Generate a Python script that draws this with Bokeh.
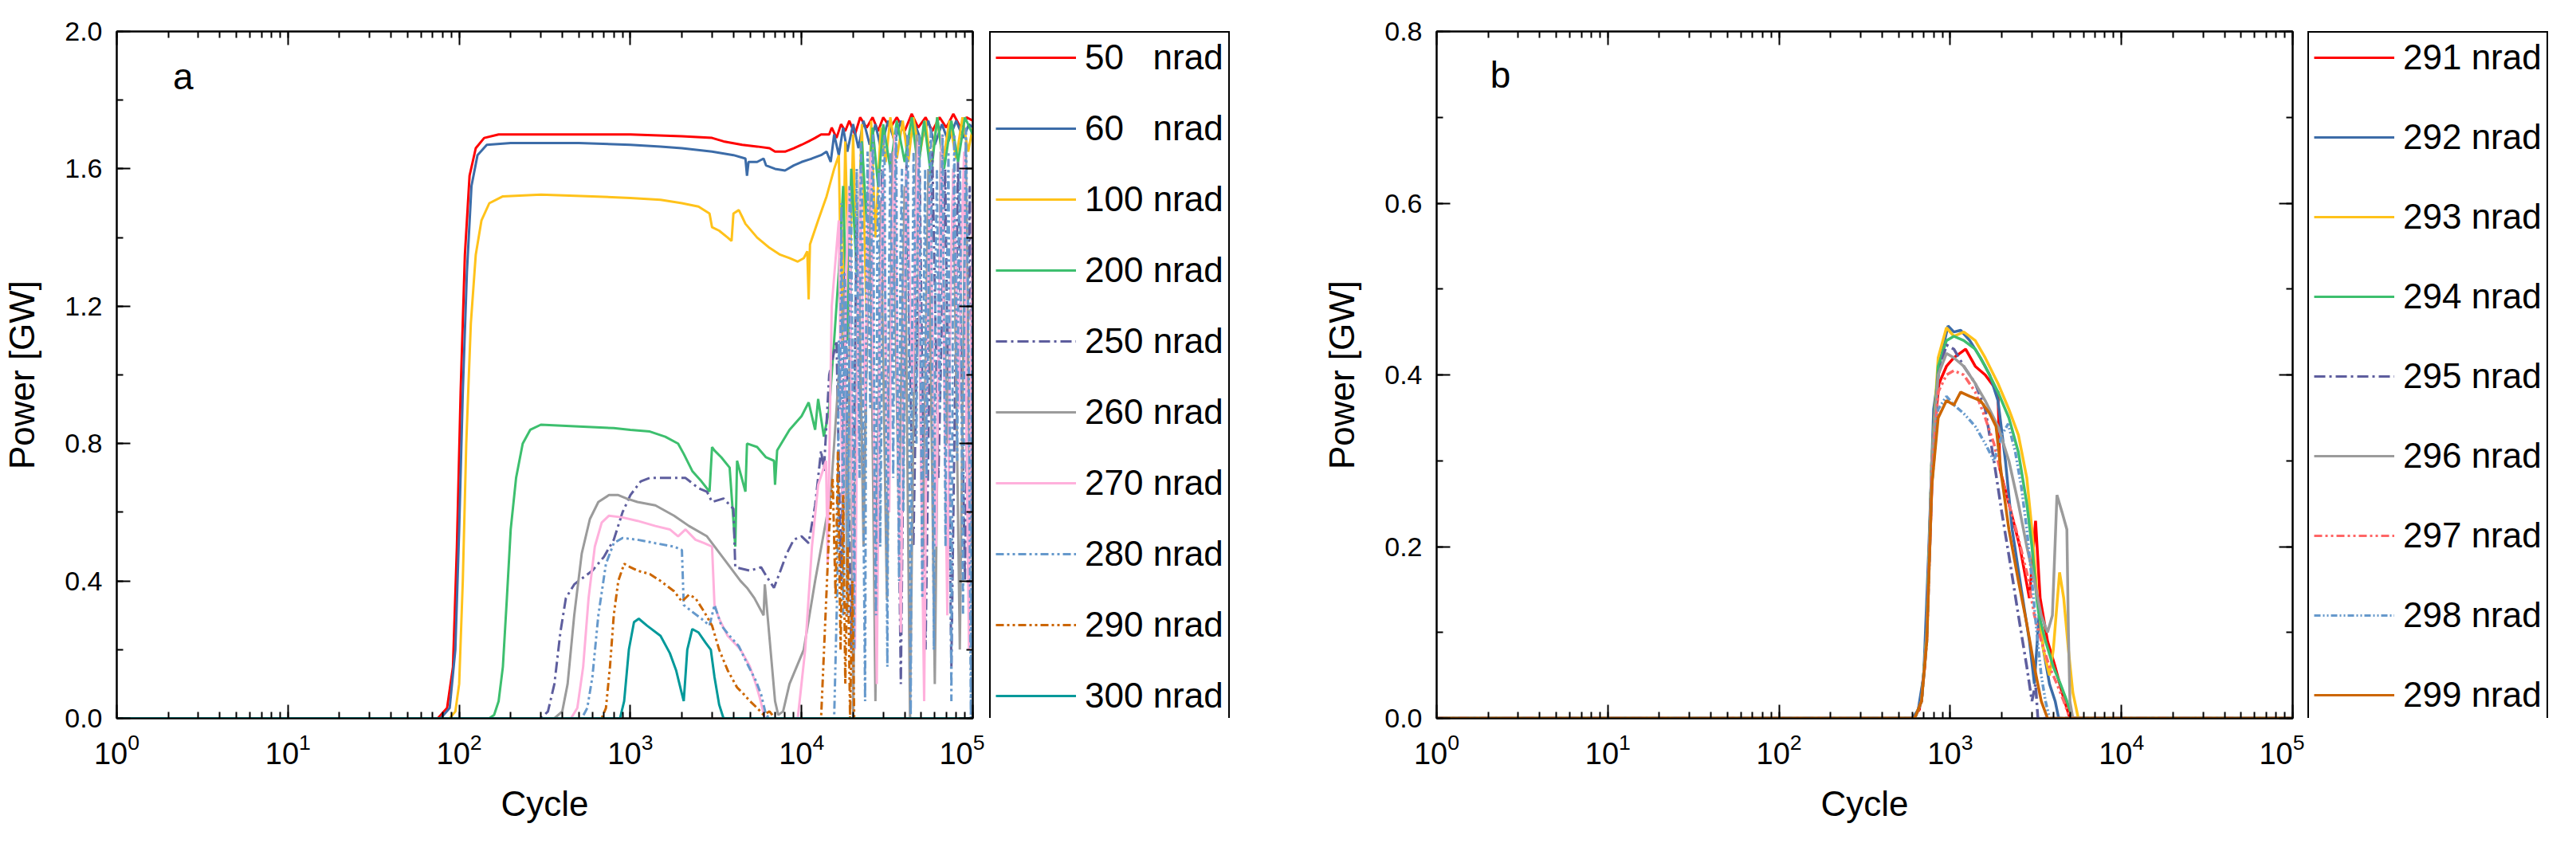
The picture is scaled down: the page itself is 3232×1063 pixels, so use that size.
from bokeh.plotting import figure
from bokeh.models import (Range1d, LogAxis, LinearAxis, LogTicker, SingleIntervalTicker,
                          Legend, LegendItem, Label, PrintfTickFormatter)
from bokeh.layouts import row
from bokeh.embed import file_html
from bokeh.resources import INLINE

FONT = "Liberation Sans"

# ---- panel a: (cycle, power GW) ----
s50 = [(1, 0), (75, 0), (85, 0.03), (92, 0.15), (97, 0.5), (102, 0.95), (108, 1.35), (115, 1.58),
       (125, 1.66), (140, 1.69), (170, 1.70), (500, 1.70), (1000, 1.70), (2000, 1.695), (3000, 1.69),
       (3500, 1.68), (4500, 1.67), (5500, 1.665), (6500, 1.66), (7000, 1.65), (8000, 1.65),
       (9000, 1.66), (10000, 1.67), (11000, 1.68), (12000, 1.69), (13000, 1.70), (14500, 1.70),
       (15000, 1.72), (16000, 1.69), (17000, 1.73), (18000, 1.71), (19000, 1.74), (20500, 1.70),
       (22000, 1.75), (24000, 1.72), (26000, 1.75), (28000, 1.71), (30000, 1.75), (33000, 1.72),
       (36000, 1.75), (40000, 1.71), (44000, 1.76), (48000, 1.72), (53000, 1.75), (58000, 1.71),
       (64000, 1.75), (70000, 1.72), (77000, 1.76), (85000, 1.72), (92000, 1.75), (100000, 1.74)]
s60 = [(1, 0), (78, 0), (88, 0.03), (95, 0.2), (100, 0.55), (105, 0.95), (111, 1.3), (118, 1.55),
       (128, 1.64), (145, 1.67), (200, 1.675), (500, 1.675), (1000, 1.67), (1500, 1.665), (2000, 1.66),
       (3000, 1.65), (4000, 1.64), (4700, 1.63), (4800, 1.58), (4900, 1.62), (5500, 1.62), (6000, 1.63),
       (6200, 1.61), (7000, 1.60), (8000, 1.595), (9000, 1.61), (10000, 1.62), (11500, 1.63),
       (13000, 1.64), (14000, 1.65), (14800, 1.62), (15500, 1.70), (16500, 1.64), (17500, 1.72),
       (18500, 1.65), (20000, 1.73), (21500, 1.66), (23000, 1.74), (25000, 1.67), (27000, 1.73),
       (29000, 1.66), (32000, 1.74), (35000, 1.68), (38000, 1.74), (42000, 1.67), (46000, 1.73),
       (50000, 1.68), (55000, 1.74), (60000, 1.67), (66000, 1.73), (72000, 1.68), (80000, 1.74),
       (88000, 1.69), (95000, 1.73), (100000, 1.72)]
s100 = [(1, 0), (88, 0), (95, 0.02), (100, 0.1), (105, 0.4), (110, 0.8), (117, 1.15), (125, 1.35),
        (135, 1.45), (150, 1.5), (180, 1.52), (300, 1.525), (600, 1.52), (1000, 1.515), (1500, 1.51),
        (2000, 1.50), (2500, 1.49), (2900, 1.47), (3000, 1.43), (3300, 1.42), (3700, 1.40),
        (3900, 1.39), (4000, 1.47), (4300, 1.48), (4500, 1.46), (4700, 1.44), (5500, 1.40),
        (6500, 1.37), (7500, 1.35), (8500, 1.34), (9500, 1.33), (10300, 1.34), (10800, 1.36),
        (11000, 1.22), (11200, 1.38), (12500, 1.45), (14000, 1.52), (15500, 1.60), (16500, 1.64),
        (17200, 1.1), (18000, 1.68), (19000, 1.2), (20000, 1.70), (21000, 1.3), (22500, 1.73),
        (24000, 1.15), (25500, 1.74), (27000, 1.4), (29000, 1.72), (31000, 1.62), (33000, 1.75),
        (36000, 1.63), (39000, 1.74), (42000, 1.62), (45000, 1.75), (49000, 1.64), (53000, 1.74),
        (57000, 1.6), (62000, 1.75), (67000, 1.62), (73000, 1.74), (80000, 1.63), (87000, 1.75),
        (94000, 1.65), (100000, 1.72)]
s200 = [(1, 0), (150, 0), (160, 0.01), (170, 0.05), (180, 0.15), (190, 0.35), (200, 0.55), (215, 0.7),
        (235, 0.8), (260, 0.84), (300, 0.855), (500, 0.85), (800, 0.845), (1000, 0.84), (1300, 0.835),
        (1600, 0.82), (1900, 0.80), (2050, 0.77), (2300, 0.72), (2600, 0.69), (2900, 0.66),
        (3000, 0.79), (3100, 0.78), (3400, 0.76), (3800, 0.73), (4100, 0.50), (4200, 0.75),
        (4700, 0.66), (4800, 0.80), (5500, 0.79), (6200, 0.76), (6900, 0.75), (7000, 0.68),
        (7200, 0.78), (8500, 0.84), (10000, 0.88), (11000, 0.92), (12000, 0.84), (12500, 0.93),
        (13500, 0.82), (14500, 0.90), (15500, 1.1), (16500, 1.3), (17500, 1.55), (18500, 1.1),
        (19500, 1.6), (21000, 1.3), (22500, 1.68), (24000, 1.45), (26000, 1.72), (28000, 1.55),
        (30000, 1.73), (33000, 1.6), (36000, 1.74), (40000, 1.62), (44000, 1.75), (48000, 1.6),
        (52000, 1.74), (57000, 1.58), (62000, 1.75), (68000, 1.6), (75000, 1.74), (82000, 1.62),
        (90000, 1.75), (100000, 1.70)]
s250 = [(1, 0), (300, 0), (330, 0.02), (360, 0.1), (390, 0.25), (420, 0.35), (470, 0.39),
        (600, 0.43), (700, 0.47), (800, 0.52), (900, 0.6), (1000, 0.65), (1150, 0.69), (1300, 0.70),
        (2100, 0.70), (2500, 0.67), (2800, 0.66), (3000, 0.63), (3500, 0.64), (4000, 0.61),
        (4100, 0.44), (5000, 0.43), (5800, 0.44), (6300, 0.41), (6900, 0.38), (7400, 0.42),
        (8200, 0.48), (9000, 0.52), (10000, 0.53), (11000, 0.51), (12000, 0.62), (13000, 0.78),
        (13500, 0.72), (14500, 1.0), (16000, 1.1), (17000, 0.4), (18000, 1.3), (19500, 0.2),
        (21000, 1.45), (23000, 0.6), (25000, 1.5), (27000, 0.3), (29500, 1.6), (32000, 0.8),
        (35000, 1.55), (38000, 0.1), (41000, 1.62), (45000, 0.5), (49000, 1.58), (53000, 0.2),
        (58000, 1.65), (63000, 0.7), (69000, 1.6), (75000, 0.15), (82000, 1.62), (90000, 0.4),
        (96000, 1.55), (100000, 0.6)]
s260 = [(1, 0), (360, 0), (400, 0.02), (430, 0.1), (470, 0.3), (520, 0.48), (580, 0.58), (650, 0.63),
        (750, 0.65), (850, 0.65), (950, 0.64), (1100, 0.63), (1400, 0.62), (1800, 0.59), (2200, 0.56),
        (2800, 0.53), (3700, 0.45), (4400, 0.40), (4800, 0.38), (5300, 0.35), (6000, 0.30),
        (6100, 0.39), (6300, 0.31), (7000, 0.05), (7300, 0.01), (7800, 0.02), (8500, 0.1),
        (10300, 0.2), (12000, 0.4), (14800, 0.65), (16500, 1.0), (17800, 1.25), (18500, 0.3),
        (19300, 1.35), (20000, 0.0), (21500, 1.4), (23000, 0.5), (25000, 1.6), (27000, 0.05),
        (29000, 1.5), (31500, 0.35), (34000, 1.65), (37000, 0.6), (40000, 1.55), (43000, 0.0),
        (47000, 1.7), (51000, 0.45), (55000, 1.6), (60000, 0.1), (65000, 1.65), (71000, 0.8),
        (77000, 1.6), (84000, 0.2), (91000, 1.68), (97000, 0.5), (100000, 1.3)]
s270 = [(1, 0), (450, 0), (490, 0.03), (530, 0.15), (570, 0.35), (620, 0.5), (680, 0.57), (750, 0.59),
        (900, 0.585), (1100, 0.575), (1400, 0.56), (1700, 0.55), (1900, 0.53), (2100, 0.55),
        (2400, 0.52), (2700, 0.51), (3000, 0.50), (3100, 0.33), (3300, 0.29), (3700, 0.24),
        (4400, 0.2), (5000, 0.15), (5400, 0.10), (5700, 0.06), (6100, 0.0), (9500, 0.0),
        (10500, 0.2), (11500, 0.5), (12500, 0.68), (13900, 0.75), (14200, 0.45), (15000, 1.2),
        (16500, 1.45), (17000, 0.9), (17500, 0.5), (18200, 1.3), (19000, 1.55), (19800, 0.7),
        (20500, 0.2), (21300, 1.1), (22000, 1.6), (22700, 1.2), (23500, 0.9), (24500, 1.5),
        (25500, 1.65), (26500, 0.8), (27500, 0.1), (28700, 1.2), (30000, 1.6), (31200, 1.0),
        (32500, 0.6), (33700, 1.3), (35000, 1.7), (36500, 0.9), (38000, 0.25), (39500, 1.1),
        (41000, 1.6), (42700, 1.3), (44500, 0.95), (46200, 1.4), (48000, 1.68), (50000, 0.7),
        (52000, 0.05), (54000, 1.0), (56000, 1.55), (58500, 1.1), (61000, 0.5), (63500, 1.2),
        (66000, 1.7), (68500, 0.9), (71000, 0.3), (74000, 1.2), (77000, 1.6), (80000, 1.3),
        (83000, 0.9), (86000, 1.4), (89000, 1.65), (92000, 0.8), (95000, 0.2), (97500, 1.0),
        (100000, 1.5)]
s280 = [(1, 0), (520, 0), (560, 0.03), (600, 0.12), (650, 0.3), (720, 0.45), (800, 0.51), (900, 0.525),
        (1100, 0.52), (1400, 0.51), (1800, 0.50), (2000, 0.49), (2050, 0.33), (2300, 0.31),
        (2600, 0.29), (2900, 0.27), (3100, 0.33), (3400, 0.27), (3800, 0.24), (4300, 0.21),
        (4800, 0.16), (5400, 0.11), (5800, 0.07), (6200, 0.01), (6500, 0.0), (15500, 0.0),
        (16200, 0.4), (16500, 1.1), (16800, 0.9), (17100, 1.5), (17500, 0.3), (17800, 1.3),
        (18200, 1.2), (18500, 0.6), (18800, 0.5), (19100, 1.55), (19500, 1.45), (19900, 0.9),
        (20300, 0.2), (20600, 1.2), (21000, 1.6), (21400, 1.1), (21800, 0.7), (22200, 1.68),
        (22600, 1.5), (23000, 0.6), (23500, 0.05), (23900, 1.3), (24300, 1.65), (24700, 1.2),
        (25200, 0.9), (25700, 1.55), (26200, 1.7), (26700, 0.6), (27200, 0.3), (27700, 1.4),
        (28300, 1.6), (28800, 0.5), (29400, 1.0), (29900, 1.65), (30500, 1.7), (31100, 0.8),
        (31700, 0.15), (32300, 1.2), (33000, 1.65), (33600, 1.3), (34300, 0.7), (35000, 1.5),
        (35700, 1.72), (36400, 0.9), (37100, 0.4), (37800, 1.35), (38600, 1.6), (39300, 0.6),
        (40100, 1.05), (40900, 1.6), (41700, 1.7), (42500, 0.9), (43400, 0.0), (44200, 1.1),
        (45100, 1.65), (46000, 1.3), (46900, 0.8), (47800, 1.5), (48800, 1.7), (49700, 1.0),
        (50700, 0.35), (51700, 1.2), (52700, 1.6), (53700, 0.7), (54800, 1.1), (55900, 1.6),
        (57000, 1.72), (58100, 0.9), (59300, 0.2), (60500, 1.25), (61700, 1.6), (62900, 1.2),
        (64100, 0.9), (65400, 1.5), (66700, 1.7), (68000, 1.1), (69300, 0.5), (70700, 1.3),
        (72100, 1.65), (73500, 0.8), (75000, 0.05), (76500, 1.2), (78000, 1.7), (79500, 1.3),
        (81100, 0.75), (82700, 1.4), (84300, 1.6), (86000, 0.9), (87700, 0.3), (89400, 1.3),
        (91200, 1.72), (93000, 1.4), (94800, 1.0), (96100, 0.5), (97500, 0.0), (98700, 0.9),
        (100000, 1.4)]
s290 = [(1, 0), (680, 0), (720, 0.03), (760, 0.15), (800, 0.3), (850, 0.4), (920, 0.45), (1000, 0.44),
        (1100, 0.43), (1300, 0.42), (1500, 0.40), (1800, 0.37), (2000, 0.34), (2200, 0.36),
        (2400, 0.35), (2700, 0.31), (3000, 0.27), (3300, 0.2), (3700, 0.14), (4200, 0.09),
        (4600, 0.07), (5000, 0.05), (5500, 0.03), (6000, 0.01), (6500, 0.02), (7000, 0.0),
        (13000, 0.0), (13800, 0.3), (14500, 0.55), (15200, 0.7), (15800, 0.35), (16300, 0.78),
        (16900, 0.2), (17500, 0.65), (18000, 0.1), (18600, 0.5), (19200, 0.0), (19800, 0.4),
        (20300, 0.0), (100000, 0.0)]
s300 = [(1, 0), (870, 0), (920, 0.05), (980, 0.2), (1050, 0.28), (1120, 0.29), (1250, 0.27),
        (1500, 0.24), (1700, 0.19), (1850, 0.14), (1980, 0.08), (2050, 0.05), (2150, 0.2),
        (2300, 0.26), (2500, 0.25), (2750, 0.22), (2950, 0.20), (3100, 0.12), (3300, 0.04),
        (3500, 0.0), (100000, 0.0)]

# ---- panel b ----
s291 = [(1, 0), (600, 0), (660, 0.01), (710, 0.06), (760, 0.2), (800, 0.33), (860, 0.39), (950, 0.41),
        (1050, 0.42), (1230, 0.43), (1400, 0.41), (1600, 0.40), (1900, 0.38), (1950, 0.29),
        (2200, 0.25), (2550, 0.2), (2900, 0.14), (3150, 0.23), (3350, 0.14), (3700, 0.09),
        (4100, 0.06), (4500, 0.03), (5000, 0.0), (100000, 0.0)]
s292 = [(1, 0), (600, 0), (650, 0.01), (700, 0.05), (750, 0.2), (800, 0.36), (880, 0.42), (970, 0.457),
        (1050, 0.45), (1150, 0.452), (1300, 0.44), (1500, 0.42), (1700, 0.40), (1900, 0.37),
        (2100, 0.30), (2300, 0.22), (2600, 0.15), (2900, 0.09), (3100, 0.04), (3300, 0.12),
        (3500, 0.08), (3800, 0.04), (4100, 0.02), (4300, 0.0), (100000, 0.0)]
s293 = [(1, 0), (620, 0), (680, 0.02), (730, 0.1), (780, 0.3), (850, 0.42), (950, 0.455), (1050, 0.445),
        (1200, 0.45), (1400, 0.44), (1600, 0.42), (1900, 0.39), (2200, 0.36), (2500, 0.33),
        (2800, 0.28), (3000, 0.22), (3200, 0.15), (3500, 0.08), (3800, 0.05), (4000, 0.08),
        (4350, 0.17), (4600, 0.14), (4900, 0.08), (5200, 0.03), (5600, 0.0), (100000, 0.0)]
s294 = [(1, 0), (620, 0), (680, 0.02), (730, 0.1), (780, 0.3), (850, 0.41), (950, 0.44), (1050, 0.445),
        (1200, 0.44), (1400, 0.43), (1600, 0.41), (1900, 0.38), (2200, 0.35), (2500, 0.31),
        (2800, 0.25), (3000, 0.2), (3200, 0.14), (3300, 0.12), (3600, 0.09), (4000, 0.06),
        (4400, 0.04), (4800, 0.02), (5200, 0.0), (100000, 0.0)]
s295 = [(1, 0), (620, 0), (680, 0.02), (730, 0.1), (780, 0.3), (850, 0.40), (950, 0.435), (1050, 0.43),
        (1200, 0.41), (1400, 0.39), (1600, 0.36), (1800, 0.30), (2000, 0.24), (2200, 0.19),
        (2500, 0.12), (2800, 0.06), (3000, 0.02), (3150, 0.04), (3250, 0.0), (100000, 0.0)]
s296 = [(1, 0), (620, 0), (680, 0.02), (730, 0.1), (780, 0.3), (850, 0.40), (950, 0.425), (1050, 0.42),
        (1200, 0.41), (1400, 0.39), (1600, 0.37), (1900, 0.34), (2200, 0.30), (2500, 0.25),
        (2800, 0.2), (3100, 0.16), (3400, 0.12), (3700, 0.10), (3950, 0.12), (4200, 0.26),
        (4500, 0.24), (4800, 0.22), (4900, 0.1), (5000, 0.02), (5200, 0.0), (100000, 0.0)]
s297 = [(1, 0), (620, 0), (680, 0.02), (730, 0.09), (780, 0.28), (850, 0.38), (950, 0.40), (1050, 0.405),
        (1200, 0.40), (1400, 0.38), (1600, 0.35), (1800, 0.32), (2000, 0.28), (2200, 0.25),
        (2500, 0.21), (2800, 0.17), (3100, 0.12), (3400, 0.09), (3800, 0.06), (4200, 0.04),
        (4600, 0.02), (5000, 0.0), (100000, 0.0)]
s298 = [(1, 0), (620, 0), (680, 0.02), (730, 0.09), (780, 0.27), (850, 0.36), (950, 0.375), (1050, 0.365),
        (1200, 0.355), (1400, 0.34), (1600, 0.32), (1800, 0.30), (2000, 0.33), (2180, 0.343),
        (2400, 0.31), (2600, 0.27), (2800, 0.22), (3000, 0.16), (3200, 0.10), (3400, 0.05),
        (3600, 0.02), (3800, 0.0), (100000, 0.0)]
s299 = [(1, 0), (620, 0), (680, 0.02), (730, 0.09), (780, 0.27), (850, 0.35), (950, 0.37), (1050, 0.365),
        (1150, 0.38), (1300, 0.375), (1500, 0.37), (1700, 0.355), (1850, 0.34), (2000, 0.28),
        (2200, 0.22), (2500, 0.16), (2800, 0.11), (3100, 0.06), (3400, 0.02), (3700, 0.0),
        (100000, 0.0)]

NB = "\u00a0"
series_a = [
    ("50" + NB * 3 + "nrad", s50, "#FF0000", "solid"),
    ("60" + NB * 3 + "nrad", s60, "#3C6CA8", "solid"),
    ("100 nrad", s100, "#FFC21A", "solid"),
    ("200 nrad", s200, "#3DBF6E", "solid"),
    ("250 nrad", s250, "#5E5E9E", "14 5 3 5"),
    ("260 nrad", s260, "#9B9B9B", "solid"),
    ("270 nrad", s270, "#FFB0DC", "solid"),
    ("280 nrad", s280, "#6699CC", "10 4 3 4 3 4"),
    ("290 nrad", s290, "#CC6600", "10 4 3 4 3 4"),
    ("300 nrad", s300, "#00999A", "solid"),
]
series_b = [
    ("291 nrad", s291, "#FF0000", "solid"),
    ("292 nrad", s292, "#3C6CA8", "solid"),
    ("293 nrad", s293, "#FFC21A", "solid"),
    ("294 nrad", s294, "#3DBF6E", "solid"),
    ("295 nrad", s295, "#5E5E9E", "14 5 3 5"),
    ("296 nrad", s296, "#9B9B9B", "solid"),
    ("297 nrad", s297, "#FF6666", "10 4 3 4 3 4"),
    ("298 nrad", s298, "#6699CC", "8 3 2 3 2 3"),
    ("299 nrad", s299, "#CC6600", "solid"),
]

H = 1045


def style_axis(ax):
    ax.axis_line_width = 2
    ax.axis_line_color = "black"
    ax.major_tick_in = 17
    ax.major_tick_out = 0
    ax.minor_tick_in = 8
    ax.minor_tick_out = 0
    ax.major_tick_line_width = 2
    ax.minor_tick_line_width = 2
    ax.major_tick_line_color = "black"
    ax.minor_tick_line_color = "black"
    ax.major_label_text_font = FONT
    ax.major_label_text_color = "black"
    ax.axis_label_text_font = FONT
    ax.axis_label_text_font_style = "normal"
    ax.axis_label_text_font_size = "44px"
    ax.axis_label_text_color = "black"


def panel(series, ymax, step, letter, lx, ly, left, lw):
    p = figure(width=left + 1074 + 15, height=H, x_axis_type="log",
               x_range=Range1d(1, 1e5), y_range=Range1d(0, ymax),
               output_backend="svg", toolbar_location=None,
               min_border_left=left, min_border_right=15,
               min_border_top=37, min_border_bottom=144)
    p.grid.visible = False
    p.outline_line_color = "black"
    p.outline_line_width = 2
    p.background_fill_color = "white"

    for label, pts, color, dash in series:
        xs = [a for a, b in pts]
        ys = [b for a, b in pts]
        p.line(xs, ys, line_color=color, line_width=lw, line_dash=dash)

    xa = p.xaxis[0]
    ya = p.yaxis[0]
    xa.ticker = LogTicker(num_minor_ticks=10)
    ya.ticker = SingleIntervalTicker(interval=step, num_minor_ticks=2)
    ya.formatter = PrintfTickFormatter(format="%.1f")
    xa.axis_label = "Cycle"
    ya.axis_label = "Power [GW]"
    style_axis(xa)
    style_axis(ya)
    xa.major_label_text_font_size = "38px"
    xa.major_label_standoff = 18
    xa.axis_label_standoff = 22
    ya.major_label_text_font_size = "34px"
    ya.major_label_standoff = 18
    ya.axis_label_standoff = 26

    top = LogAxis(ticker=LogTicker(num_minor_ticks=10))
    rgt = LinearAxis(ticker=SingleIntervalTicker(interval=step, num_minor_ticks=2))
    for ax in (top, rgt):
        style_axis(ax)
        ax.major_label_text_font_size = "1px"
        ax.major_label_text_color = None
        ax.major_label_standoff = 0
    p.add_layout(top, "above")
    p.add_layout(rgt, "right")

    p.add_layout(Label(x=lx, y=ly, text=letter, text_font=FONT, text_font_size="46px",
                       text_align="center", text_baseline="middle", text_color="black"))
    return p


def legend_box(series, width, left, spacing, padding):
    q = figure(width=width, height=H, x_range=Range1d(0, 1), y_range=Range1d(0, 1),
               output_backend="svg", toolbar_location=None,
               x_axis_location=None, y_axis_location=None,
               min_border_left=left, min_border_right=4,
               min_border_top=39, min_border_bottom=H - 39 - 900)
    q.grid.visible = False
    q.outline_line_color = None
    items = []
    for label, pts, color, dash in series:
        r = q.line([0, 1], [-5, -5], line_color=color, line_width=3, line_dash=dash)
        items.append(LegendItem(label=label, renderers=[r]))
    leg = Legend(items=items, location="top_left", orientation="vertical",
                 border_line_color="black", border_line_width=2.5, border_line_alpha=1,
                 padding=padding, spacing=spacing, glyph_width=101, glyph_height=50,
                 label_height=50, label_standoff=11, label_text_font=FONT,
                 label_text_font_size="44px", label_text_color="black", margin=0,
                 background_fill_color="white", background_fill_alpha=1)
    q.add_layout(leg, "center")
    return q


pa = panel(series_a, 2.0, 0.4, "a", 2.44, 1.868, 146, 3)
la = legend_box(series_a, 330, 6, 39, 6)
pb = panel(series_b, 0.8, 0.2, "b", 2.36, 0.749, 237, 3.5)
lb = legend_box(series_b, 318, 4, 50, 6)

layout = row(pa, la, pb, lb)
open("out.html", "w").write(file_html(layout, INLINE))
